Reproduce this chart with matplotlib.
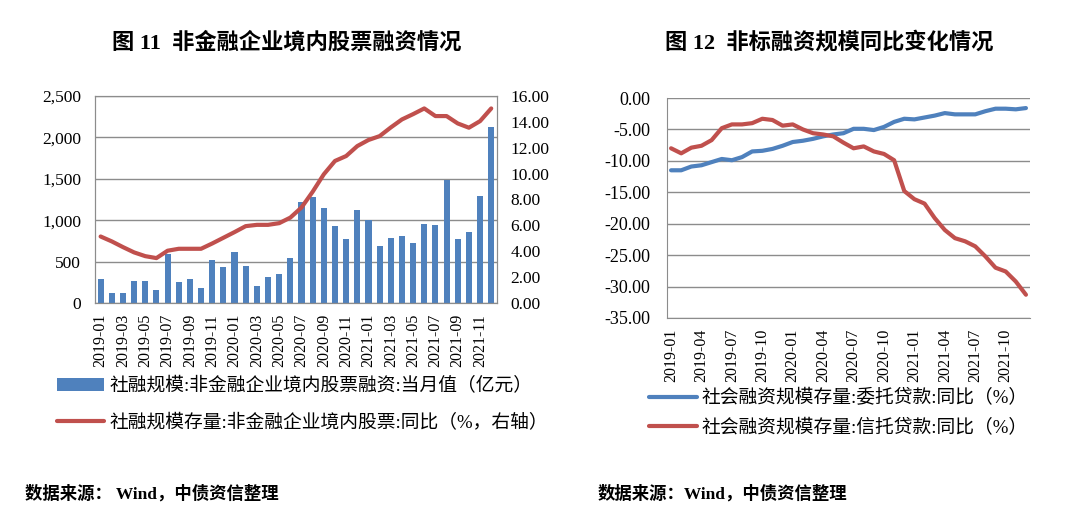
import matplotlib.pyplot as plt
import pandas as pd

plt.rcParams['font.family'] = ['Liberation Serif', 'Noto Sans CJK SC']
plt.rcParams['axes.unicode_minus'] = False

# 月份
months = [p.strftime('%Y-%m') for p in pd.period_range('2019-01', '2021-12', freq='M')]

# 图11：非金融企业境内股票融资 当月值（亿元）
equity_monthly = [289, 121, 121, 261, 261, 153, 591, 253, 289, 181, 523, 430,
                  615, 450, 201, 314, 354, 539, 1218, 1286, 1146, 928, 776, 1125,
                  1005, 691, 788, 812, 719, 957, 941, 1487, 776, 852, 1294, 2122]
# 存量同比（%，右轴）
equity_yoy = [5.14, 4.76, 4.32, 3.91, 3.62, 3.47, 4.04, 4.19, 4.19, 4.19, 4.60, 5.04,
              5.48, 5.94, 6.04, 6.04, 6.17, 6.60, 7.38, 8.60, 9.95, 10.98, 11.36, 12.13,
              12.60, 12.90, 13.57, 14.19, 14.60, 15.04, 14.45, 14.45, 13.88, 13.55, 14.06, 15.04]

# 图12：委托贷款、信托贷款 存量同比（%）
entrusted_yoy = [-11.5, -11.5, -10.9, -10.7, -10.2, -9.7, -9.9, -9.4, -8.5, -8.4, -8.1, -7.6,
                 -7.0, -6.8, -6.5, -6.1, -5.8, -5.6, -4.9, -4.9, -5.1, -4.6, -3.8, -3.3,
                 -3.4, -3.1, -2.8, -2.4, -2.6, -2.6, -2.6, -2.1, -1.7, -1.7, -1.8, -1.6]
trust_yoy = [-8.0, -8.8, -7.9, -7.6, -6.7, -4.8, -4.2, -4.2, -4.0, -3.3, -3.5, -4.4,
             -4.2, -5.0, -5.6, -5.8, -6.1, -7.1, -8.0, -7.7, -8.5, -8.9, -9.9, -14.8,
             -16.1, -16.8, -19.1, -21.0, -22.3, -22.8, -23.6, -25.2, -27.0, -27.6, -29.2, -31.3]

blue = '#4F81BD'
red = '#C0504D'
grid_c = '#8C8C8C'
fam = ['Liberation Serif', 'Noto Sans CJK SC']

fig = plt.figure(figsize=(10.8, 5.23), dpi=100)

# ---------- 图11 ----------
ax1 = fig.add_axes([0.088, 0.4207, 0.372, 0.3957])
x = range(len(months))
bars = ax1.bar(x, equity_monthly, width=0.55, color=blue, zorder=2)
ax1.set_ylim(0, 2500)
ax1.set_yticks([0, 500, 1000, 1500, 2000, 2500])
ax1.set_yticklabels(['0', '500', '1,000', '1,500', '2,000', '2,500'])
ax1.set_xlim(-0.5, len(months) - 0.5)
ax1.set_xticks(range(0, 36, 2))
ax1.set_xticklabels(months[0:36:2], rotation=90)
ax1.yaxis.grid(True, color=grid_c, lw=1, zorder=0)
ax1.set_axisbelow(True)
for s in ax1.spines.values():
    s.set_color(grid_c)
ax1.tick_params(axis='y', length=0, pad=10, labelsize=12.5)
ax1.tick_params(axis='x', length=0, pad=8, labelsize=11.5)

ax2 = ax1.twinx()
line1, = ax2.plot(x, equity_yoy, color=red, lw=3, solid_capstyle='round')
ax2.set_ylim(0, 16)
ax2.set_yticks(range(0, 17, 2))
ax2.set_yticklabels([f'{v:.2f}' for v in range(0, 17, 2)])
ax2.tick_params(axis='y', length=0, pad=10, labelsize=12.5)
for s in ax2.spines.values():
    s.set_color(grid_c)

fig.legend([bars, line1],
           ['社融规模:非金融企业境内股票融资:当月值（亿元）',
            '社融规模存量:非金融企业境内股票:同比（%，右轴）'],
           loc='upper left', bbox_to_anchor=(0.044, 0.297), frameon=False,
           prop={'family': fam, 'size': 13.5}, handlelength=2.5, handleheight=0.7,
           labelspacing=1.0, borderpad=0, handletextpad=0.3)

# ---------- 图12 ----------
ax3 = fig.add_axes([0.6176, 0.392, 0.3361, 0.4206])
l_a, = ax3.plot(x, entrusted_yoy, color=blue, lw=3, solid_capstyle='round')
l_b, = ax3.plot(x, trust_yoy, color=red, lw=3, solid_capstyle='round')
ax3.set_ylim(-35, 0)
ax3.set_yticks(range(-35, 1, 5))
ax3.set_yticklabels([f'{v:.2f}' for v in range(-35, 1, 5)])
ax3.set_xlim(-0.4, len(months) - 0.6)
ax3.set_xticks(range(0, 36, 3))
ax3.set_xticklabels(months[0:36:3], rotation=90)
ax3.yaxis.grid(True, color=grid_c, lw=1, zorder=0)
ax3.set_axisbelow(True)
ax3.spines['top'].set_visible(False)
ax3.spines['right'].set_visible(False)
ax3.spines['left'].set_color(grid_c)
ax3.spines['bottom'].set_color(grid_c)
ax3.tick_params(axis='y', length=0, pad=12, labelsize=13)
ax3.tick_params(axis='x', length=0, pad=8, labelsize=11.5)

fig.legend([l_a, l_b],
           ['社会融资规模存量:委托贷款:同比（%）',
            '社会融资规模存量:信托贷款:同比（%）'],
           loc='upper left', bbox_to_anchor=(0.592, 0.273), frameon=False,
           prop={'family': fam, 'size': 13.5}, handlelength=2.6,
           labelspacing=0.6, borderpad=0, handletextpad=0.2)

# 标题与来源
fig.text(0.265, 0.918, '图 11  非金融企业境内股票融资情况', ha='center', va='center',
         fontsize=16, fontweight='bold', family=fam)
fig.text(0.768, 0.918, '图 12  非标融资规模同比变化情况', ha='center', va='center',
         fontsize=16, fontweight='bold', family=fam)
fig.text(0.023, 0.055, '数据来源： Wind，中债资信整理', ha='left', va='center',
         fontsize=12.5, fontweight='bold', family=fam)
fig.text(0.553, 0.055, '数据来源：Wind，中债资信整理', ha='left', va='center',
         fontsize=12.5, fontweight='bold', family=fam)

fig.savefig('out.png', dpi=100)
